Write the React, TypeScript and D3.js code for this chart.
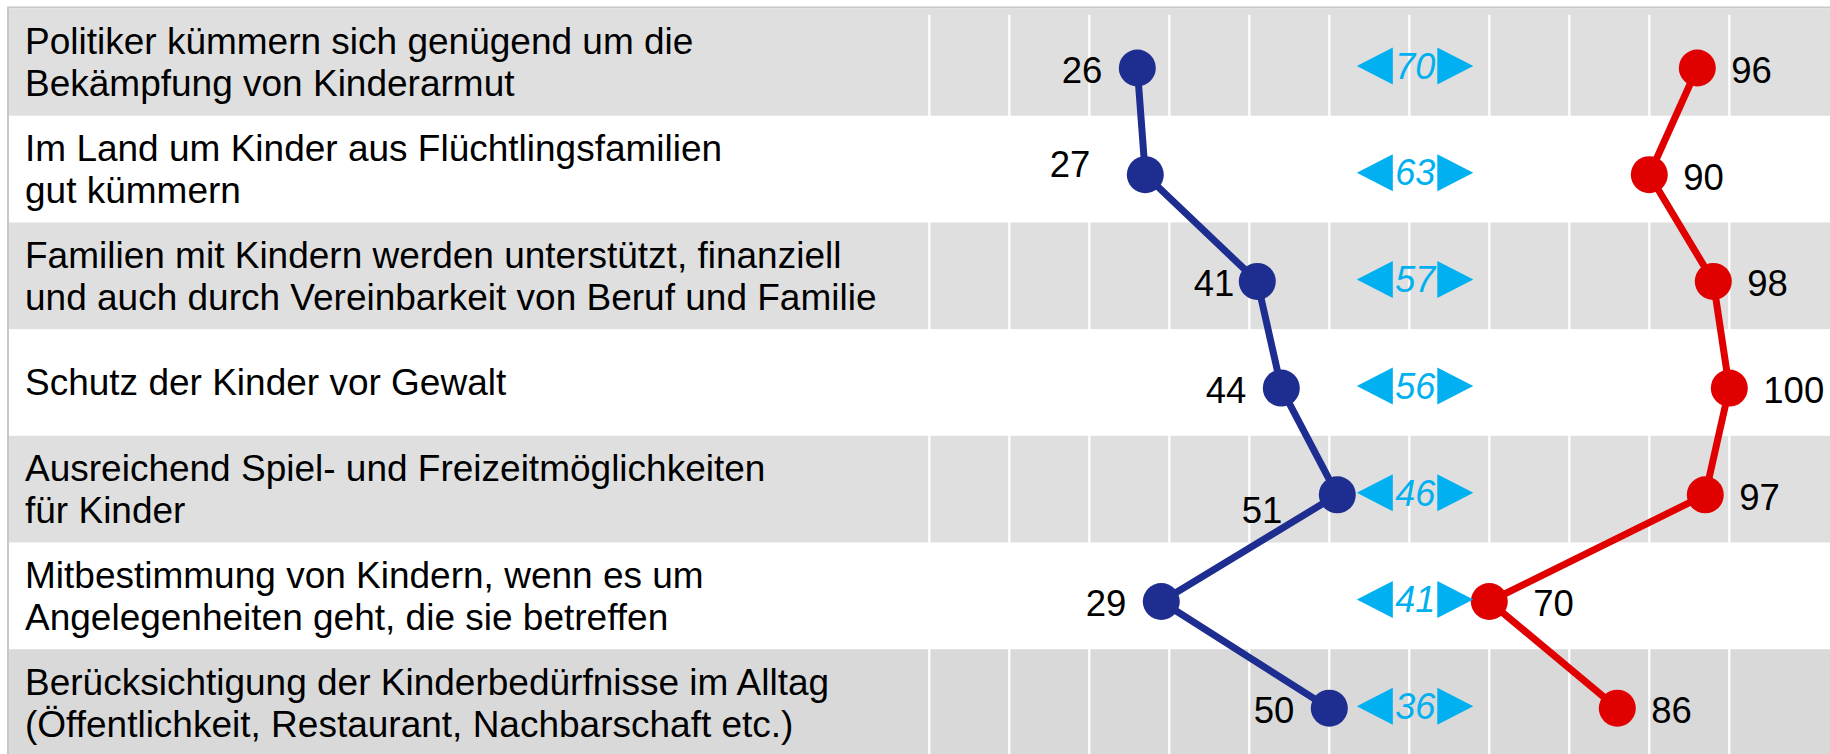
import React from "react";
import * as d3 from "d3";

const categories: string[] = [
  "Politiker kümmern sich genügend um die\nBekämpfung von Kinderarmut",
  "Im Land um Kinder aus Flüchtlingsfamilien\ngut kümmern",
  "Familien mit Kindern werden unterstützt, finanziell\nund auch durch Vereinbarkeit von Beruf und Familie",
  "Schutz der Kinder vor Gewalt",
  "Ausreichend Spiel- und Freizeitmöglichkeiten\nfür Kinder",
  "Mitbestimmung von Kindern, wenn es um\nAngelegenheiten geht, die sie betreffen",
  "Berücksichtigung der Kinderbedürfnisse im Alltag\n(Öffentlichkeit, Restaurant, Nachbarschaft etc.)",
];
const blueValues: number[] = [26, 27, 41, 44, 51, 29, 50];
const redValues: number[] = [96, 90, 98, 100, 97, 70, 86];
const gridTicks: number[] = [0, 10, 20, 30, 40, 50, 60, 70, 80, 90, 100];

// label nudges (layout only)
const blueNudge: [number, number][] = [[0, 0], [-20, -13], [12, 0], [0, 0], [-20, 13], [0, 0], [0, 0]];
const redNudge: [number, number][] = [[0, 0], [0, 0], [0, 0], [0, 0], [0, 0], [10, 0], [0, 0]];

const W = 1830;
const H = 754;
const FONT = "'Liberation Sans', Arial, Helvetica, sans-serif";
const BLUE = "#1e2d90";
const RED = "#e00000";
const CYAN = "#00b0f0";

export default function App() {
  const x = d3.scaleLinear().domain([0, 100]).range([929.3, 1729.3]);
  const y = d3
    .scaleBand<number>()
    .domain(categories.map((_, i) => i))
    .range([9, 9 + 7 * 106.7])
    .padding(0);
  const bw = y.bandwidth();
  const dotY = (i: number) => (y(i) as number) + bw * 0.553;

  const line = d3
    .line<number>()
    .x((d) => x(d))
    .y((_, i) => dotY(i));

  const arrowCx = x(60.75);
  const fs = 37;
  const nfs = 36.5;

  return (
    <svg
      width={W}
      height={H}
      style={{ position: "absolute", left: 0, top: 0, display: "block" }}
      fontFamily={FONT}
    >
      <rect x={0} y={0} width={W} height={H} fill="#ffffff" />
      {categories.map((_, i) =>
        i % 2 === 0 ? (
          <rect
            key={"b" + i}
            x={9}
            y={y(i) as number}
            width={W - 9}
            height={bw}
            fill={i === 6 ? "#d9d9d9" : "#dfdfdf"}
          />
        ) : null
      )}
      {gridTicks.map((t) => (
        <line key={"g" + t} x1={x(t)} x2={x(t)} y1={15} y2={H} stroke="#ffffff" strokeWidth={2.2} />
      ))}
      {/* borders */}
      <line x1={8} x2={W} y1={7.5} y2={7.5} stroke="#c8c8c8" strokeWidth={2} />
      <line x1={8} x2={8} y1={6.5} y2={H} stroke="#c8c8c8" strokeWidth={2} />

      {/* category labels */}
      {categories.map((c, i) => {
        const lines = c.split("\n");
        const cy = (y(i) as number) + bw / 2;
        return (
          <text key={"c" + i} fontSize={fs} fill="#000">
            {lines.map((l, j) => (
              <tspan key={j} x={25} y={cy + (j - (lines.length - 1) / 2) * 42 + 0.35 * fs}>
                {l}
              </tspan>
            ))}
          </text>
        );
      })}

      {/* lines */}
      <path d={line(blueValues) || ""} fill="none" stroke={BLUE} strokeWidth={7} strokeLinejoin="round" />
      <path d={line(redValues) || ""} fill="none" stroke={RED} strokeWidth={7} strokeLinejoin="round" />

      {/* dots */}
      {blueValues.map((v, i) => (
        <circle key={"bd" + i} cx={x(v)} cy={dotY(i)} r={18.5} fill={BLUE} />
      ))}
      {redValues.map((v, i) => (
        <circle key={"rd" + i} cx={x(v)} cy={dotY(i)} r={18.5} fill={RED} />
      ))}

      {/* value labels */}
      {blueValues.map((v, i) => (
        <text
          key={"bl" + i}
          x={x(v) - 35 + blueNudge[i][0]}
          y={dotY(i) + 2 + blueNudge[i][1] + 0.355 * nfs}
          textAnchor="end"
          fontSize={nfs}
          fill="#000"
        >
          {v}
        </text>
      ))}
      {redValues.map((v, i) => (
        <text
          key={"rl" + i}
          x={x(v) + 34 + redNudge[i][0]}
          y={dotY(i) + 2 + redNudge[i][1] + 0.355 * nfs}
          textAnchor="start"
          fontSize={nfs}
          fill="#000"
        >
          {v}
        </text>
      ))}

      {/* difference arrows */}
      {redValues.map((v, i) => {
        const cy = dotY(i) - 2;
        const cx = arrowCx;
        const left = `M${cx - 58.5},${cy} L${cx - 22.5},${cy - 18.5} L${cx - 22.5},${cy + 18.5} Z`;
        const right = `M${cx + 58},${cy} L${cx + 22},${cy - 18.5} L${cx + 22},${cy + 18.5} Z`;
        return (
          <g key={"a" + i}>
            <path d={left} fill={CYAN} />
            <path d={right} fill={CYAN} />
            <text
              x={cx}
              y={cy + 0.355 * 36}
              textAnchor="middle"
              fontSize={36}
              fontStyle="italic"
              fill={CYAN}
            >
              {v - blueValues[i]}
            </text>
          </g>
        );
      })}
    </svg>
  );
}
